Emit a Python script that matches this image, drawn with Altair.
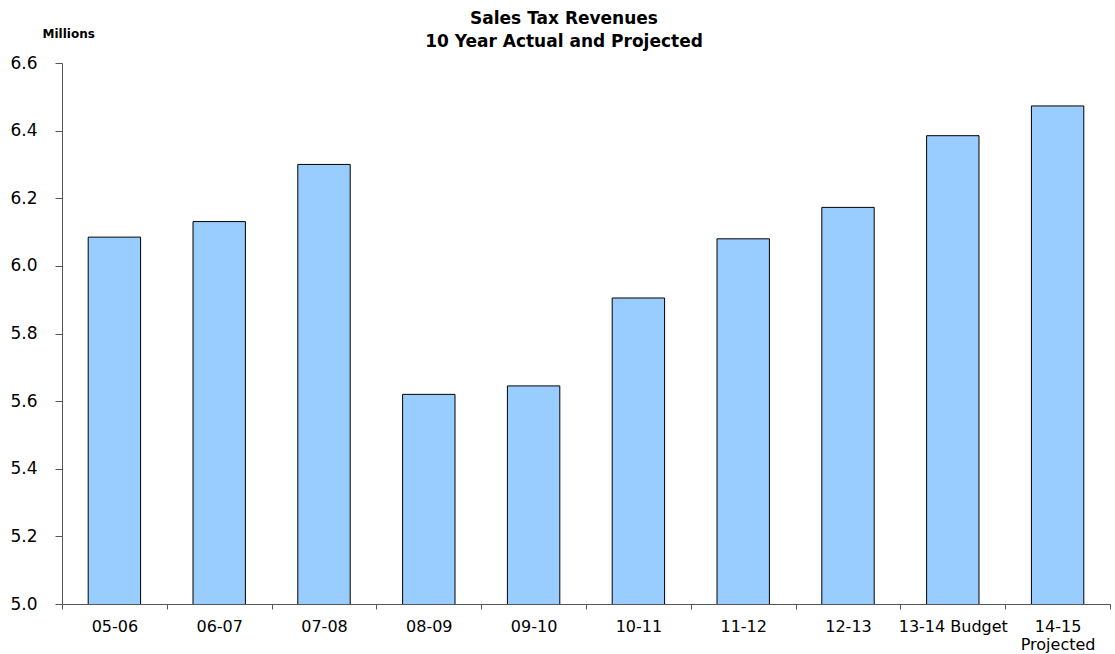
import altair as alt
import pandas as pd

categories = ["05-06", "06-07", "07-08", "08-09", "09-10", "10-11",
              "11-12", "12-13", "13-14 Budget", "14-15\nProjected"]
values = [6.085, 6.131, 6.300, 5.620, 5.645, 5.905, 6.080, 6.173, 6.385, 6.473]
y_ticks = [5.0, 5.2, 5.4, 5.6, 5.8, 6.0, 6.2, 6.4, 6.6]

df = pd.DataFrame({"year": categories, "value": values})

FONT = "DejaVu Sans"
AXIS = "#555555"

chart = alt.Chart(df).mark_bar(
    color="#99CCFF", stroke="black", strokeWidth=1, clip=True,
    width=alt.RelativeBandSize(0.5)
).encode(
    x=alt.X("year:N", sort=None,
            scale=alt.Scale(paddingInner=0, paddingOuter=0),
            axis=alt.Axis(title=None, labelAngle=0, labelFont=FONT, labelFontSize=16,
                          labelColor="black", labelPadding=9, tickBand="extent",
                          tickSize=5, tickColor=AXIS, domainColor=AXIS,
                          labelLineHeight=18,
                          labelExpr="split(datum.label, '\\n')")),
    y=alt.Y("value:Q",
            scale=alt.Scale(domain=[5.0, 6.6], nice=False, zero=False),
            axis=alt.Axis(values=y_ticks, format=".1f", grid=False,
                          labelFont=FONT, labelFontSize=17, labelColor="black",
                          labelPadding=18, tickSize=7, tickColor=AXIS,
                          domainColor=AXIS,
                          title="Millions", titleAngle=0, titleX=-20, titleY=-26,
                          titleAlign="left", titleBaseline="alphabetic",
                          titleFont=FONT, titleFontSize=12, titleFontWeight="bold",
                          titleColor="black")),
).properties(
    width=1048,
    height=541,
    background="white",
    title=alt.TitleParams(
        text=["Sales Tax Revenues", "10 Year Actual and Projected"],
        font=FONT, fontSize=17, fontWeight="bold", color="black",
        anchor="middle", dx=-22, dy=40, offset=16, lineHeight=23,
    ),
    autosize=alt.AutoSizeParams(type="none"),
    padding={"left": 62, "top": 63, "right": 5, "bottom": 50},
).configure_view(strokeWidth=0, stroke=None)

chart.save("out.html", embed_options={"renderer": "svg", "actions": False})
